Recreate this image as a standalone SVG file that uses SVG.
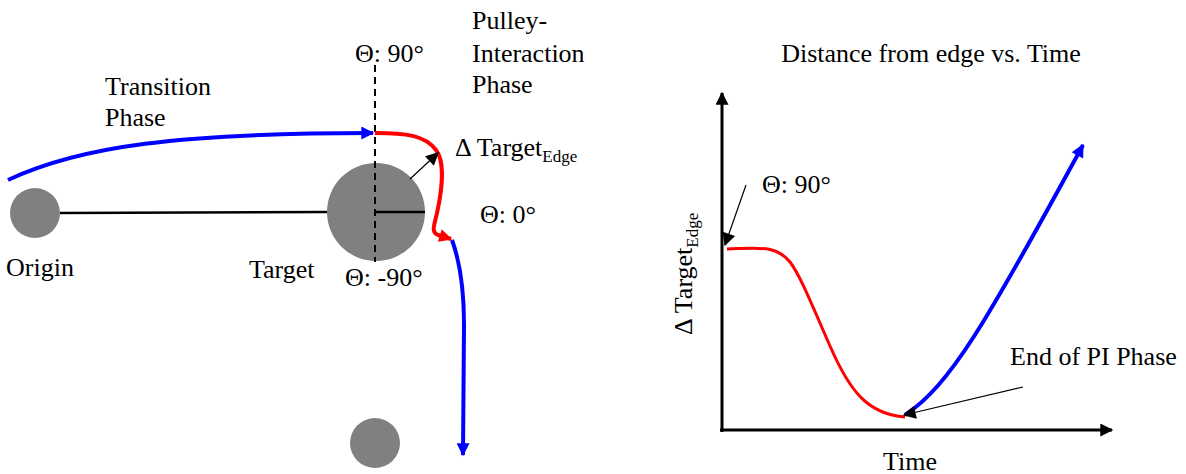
<svg xmlns="http://www.w3.org/2000/svg" width="1186" height="474" viewBox="0 0 1186 474" font-family="'Liberation Serif', 'DejaVu Serif', serif">
<style>
  text { font-family: 'Liberation Serif', 'DejaVu Serif', serif; font-size: 26px; fill: #000; }
  .sub { font-size: 17px; }
  .ball { fill: #808080; }
  .blue { fill: none; stroke: #0000ff; stroke-width: 4; }
  .red { fill: none; stroke: #ff0000; stroke-width: 4; }
  .red3 { fill: none; stroke: #ff0000; stroke-width: 3; }
  .blk { fill: none; stroke: #000; stroke-width: 3; }
  .thin { fill: none; stroke: #000; stroke-width: 1.2; }
</style>
<defs>
  <marker id="ab" viewBox="0 0 10 10" refX="9" refY="5" markerUnits="userSpaceOnUse" markerWidth="15" markerHeight="13" orient="auto"><path d="M0,0 L10,5 L0,10 Z" fill="#0000ff"/></marker>
  <marker id="ar" viewBox="0 0 10 10" refX="9" refY="5" markerUnits="userSpaceOnUse" markerWidth="15" markerHeight="13" orient="auto"><path d="M0,0 L10,5 L0,10 Z" fill="#ff0000"/></marker>
  <marker id="ak" viewBox="0 0 10 10" refX="9" refY="5" markerUnits="userSpaceOnUse" markerWidth="15" markerHeight="13" orient="auto"><path d="M0,0 L10,5 L0,10 Z" fill="#000"/></marker>
</defs>

<g id="origin"><circle class="ball" cx="35" cy="213" r="25"/></g>
<g id="target"><circle class="ball" cx="376" cy="212" r="49"/></g>
<g id="next-target"><circle class="ball" cx="375" cy="443" r="25"/></g>

<g id="connectors">
  <line x1="60" y1="213" x2="327" y2="212" stroke="#000" stroke-width="2.5"/>
  <line x1="376" y1="212" x2="425" y2="212" stroke="#000" stroke-width="2.5"/>
  <line x1="375" y1="65" x2="375" y2="262" stroke="#000" stroke-width="2" stroke-dasharray="7,5"/>
  <path class="blue" d="M8,180 C80,146 180,133 373,133" marker-end="url(#ab)"/>
  <path class="red" d="M375,133 C405,133 425,135 436,150 C446,163 441,195 437,213 C434,226 431,232 438,235 L451,239" marker-end="url(#ar)"/>
  <path class="blue" d="M452,240 C460,262 464,290 464,325 L463,455" marker-end="url(#ab)"/>
  <line class="thin" x1="410" y1="179" x2="438" y2="153" marker-end="url(#ak)"/>

  <line class="blk" x1="722" y1="432" x2="722" y2="93" marker-end="url(#ak)"/>
  <line class="blk" x1="720" y1="430" x2="1112" y2="430" marker-end="url(#ak)"/>
  <path class="red3" d="M727,249 C760,248 776,245 790,262 C800,275 812,305 830,346 C850,392 868,414 905,417"/>
  <path class="blue" d="M905,415 C950,385 985,325 1083,145" marker-end="url(#ab)"/>
  <line class="thin" x1="746" y1="185" x2="725" y2="245" marker-end="url(#ak)"/>
  <line class="thin" x1="1023" y1="387" x2="904" y2="415" marker-end="url(#ak)"/>
</g>

<g id="labels">
  <text x="105" y="95">Transition</text>
  <text x="105" y="126">Phase</text>
  <text x="472" y="29">Pulley-</text>
  <text x="472" y="62">Interaction</text>
  <text x="472" y="93">Phase</text>
  <text x="355" y="62">Θ: 90°</text>
  <text x="455" y="156">Δ Target<tspan class="sub" dy="6">Edge</tspan></text>
  <text x="480" y="223">Θ: 0°</text>
  <text x="345" y="286">Θ: -90°</text>
  <text x="6" y="276">Origin</text>
  <text x="249" y="278">Target</text>

  <text x="931" y="62" text-anchor="middle">Distance from edge vs. Time</text>
  <text x="762" y="193">Θ: 90°</text>
  <text x="1010" y="365">End of PI Phase</text>
  <text x="883" y="470">Time</text>
  <text transform="translate(692,335) rotate(-90)">Δ Target<tspan class="sub" dy="6">Edge</tspan></text>
</g>
</svg>
